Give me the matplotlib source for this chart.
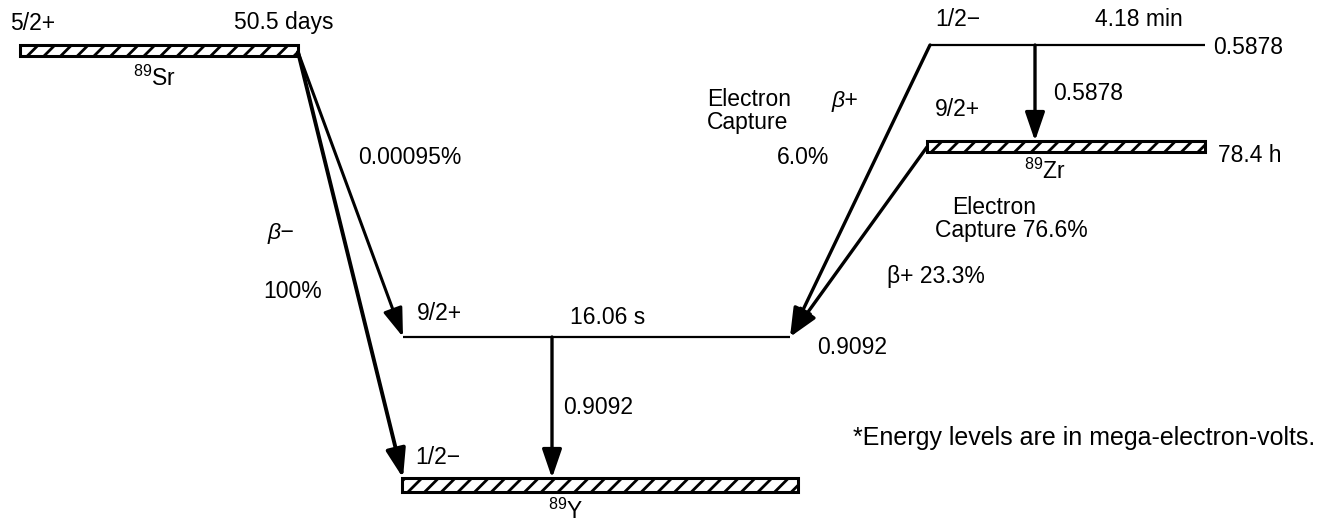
import matplotlib
matplotlib.use("Agg")
import matplotlib.pyplot as plt
from matplotlib.patches import Rectangle

# decay scheme values
nuclides = ["89Sr", "89Y", "89Zr"]
spins = {"Sr": "5/2+", "Y_exc": "9/2+", "Y_gnd": "1/2\u2212", "Zr_exc": "1/2\u2212", "Zr_gnd": "9/2+"}
half_lives = {"Sr": "50.5 days", "Y_exc": "16.06 s", "Zr_exc": "4.18 min", "Zr_gnd": "78.4 h"}
level_energies = {"Y_exc": "0.9092", "Zr_exc": "0.5878"}
gamma_energies = {"Y": "0.9092", "Zr": "0.5878"}
branches = {"Sr_to_Yexc": "0.00095%", "Sr_to_Ygnd": "100%", "Zrexc_to_Yexc": "6.0%",
            "Zr_ec": "76.6%", "Zr_bplus": "23.3%"}
note = "*Energy levels are in mega-electron-volts."

# layout in drawing units (x right, y down)
ground_bars = {"Sr": (20, 298, 45, 56), "Y": (402, 798, 478, 492), "Zr": (927, 1205, 141, 152)}
lines = {"Y_exc": (403, 790, 337), "Zr_exc": (930, 1205, 45)}

FS = 16.5
plt.rcParams["font.family"] = ["Liberation Sans", "DejaVu Sans"]
plt.rcParams["mathtext.fontset"] = "custom"
plt.rcParams["mathtext.rm"] = "Liberation Sans"
plt.rcParams["hatch.linewidth"] = 2.0


def bar(ax, key):
    x0, x1, y0, y1 = ground_bars[key]
    ax.add_patch(Rectangle((x0, y0), x1 - x0, y1 - y0, facecolor="white",
                           edgecolor="black", lw=2.2, hatch="//"))


def level(ax, key):
    x0, x1, y = lines[key]
    ax.plot([x0, x1], [y, y], color="black", lw=1.6, solid_capstyle="butt")


def arrow(ax, start, tip, lw=2.4):
    ax.annotate("", xy=tip, xytext=start,
                arrowprops=dict(arrowstyle="-|>,head_length=0.7,head_width=0.24",
                                mutation_scale=25, lw=lw, color="black",
                                shrinkA=0, shrinkB=0))


def label(ax, x, y, s, ha="left", fs=FS, **kw):
    ax.text(x, y, s, ha=ha, va="center", fontsize=fs, **kw)


def main():
    fig = plt.figure(figsize=(13.3, 5.21), dpi=100)
    ax = fig.add_axes([0, 0, 1, 1])
    ax.set_xlim(0, 1330)
    ax.set_ylim(521, 0)
    ax.axis("off")

    # 89Sr parent
    bar(ax, "Sr")
    label(ax, 10, 23, spins["Sr"])
    label(ax, 333, 23, half_lives["Sr"], ha="right")
    label(ax, 155, 78, "$^{89}$Sr", ha="center")

    # beta minus branches
    sr_end = (ground_bars["Sr"][1], 52)
    arrow(ax, sr_end, (lines["Y_exc"][0], lines["Y_exc"][2]), lw=2.2)
    arrow(ax, sr_end, (ground_bars["Y"][0] + 1, ground_bars["Y"][2]), lw=2.8)
    label(ax, 358, 158, branches["Sr_to_Yexc"])
    label(ax, 268, 233, "\u03b2\u2212", style="italic")
    label(ax, 263, 292, branches["Sr_to_Ygnd"])

    # 89Y levels
    level(ax, "Y_exc")
    label(ax, 417, 313, spins["Y_exc"])
    label(ax, 570, 318, half_lives["Y_exc"])
    label(ax, 817, 347, level_energies["Y_exc"])
    arrow(ax, (552, lines["Y_exc"][2]), (552, ground_bars["Y"][2]))
    label(ax, 563, 407, gamma_energies["Y"])
    bar(ax, "Y")
    label(ax, 415, 457, spins["Y_gnd"])
    label(ax, 566, 511, "$^{89}$Y", ha="center")

    # 89Zr levels
    level(ax, "Zr_exc")
    label(ax, 935, 20, spins["Zr_exc"])
    label(ax, 1095, 20, half_lives["Zr_exc"])
    label(ax, 1213, 48, level_energies["Zr_exc"])
    arrow(ax, (1035, lines["Zr_exc"][2]), (1035, ground_bars["Zr"][2]))
    label(ax, 1053, 93, gamma_energies["Zr"])
    label(ax, 935, 110, spins["Zr_gnd"])
    bar(ax, "Zr")
    label(ax, 1218, 155, half_lives["Zr_gnd"])
    label(ax, 1045, 171, "$^{89}$Zr", ha="center")

    # 89Zr -> 89Y branches
    y_tip = (lines["Y_exc"][1], lines["Y_exc"][2])
    arrow(ax, (lines["Zr_exc"][0], lines["Zr_exc"][2]), y_tip)
    arrow(ax, (ground_bars["Zr"][0], 147), y_tip)
    label(ax, 707, 100, "Electron")
    label(ax, 707, 123, "Capture")
    label(ax, 832, 100, "\u03b2+", style="italic")
    label(ax, 777, 157, branches["Zrexc_to_Yexc"])
    label(ax, 952, 207, "Electron")
    label(ax, 935, 230, "Capture " + branches["Zr_ec"])
    label(ax, 887, 277, "\u03b2+ " + branches["Zr_bplus"])

    label(ax, 853, 438, note, fs=18)

    fig.savefig("out.png", dpi=100, facecolor="white")


if __name__ == "__main__":
    main()
